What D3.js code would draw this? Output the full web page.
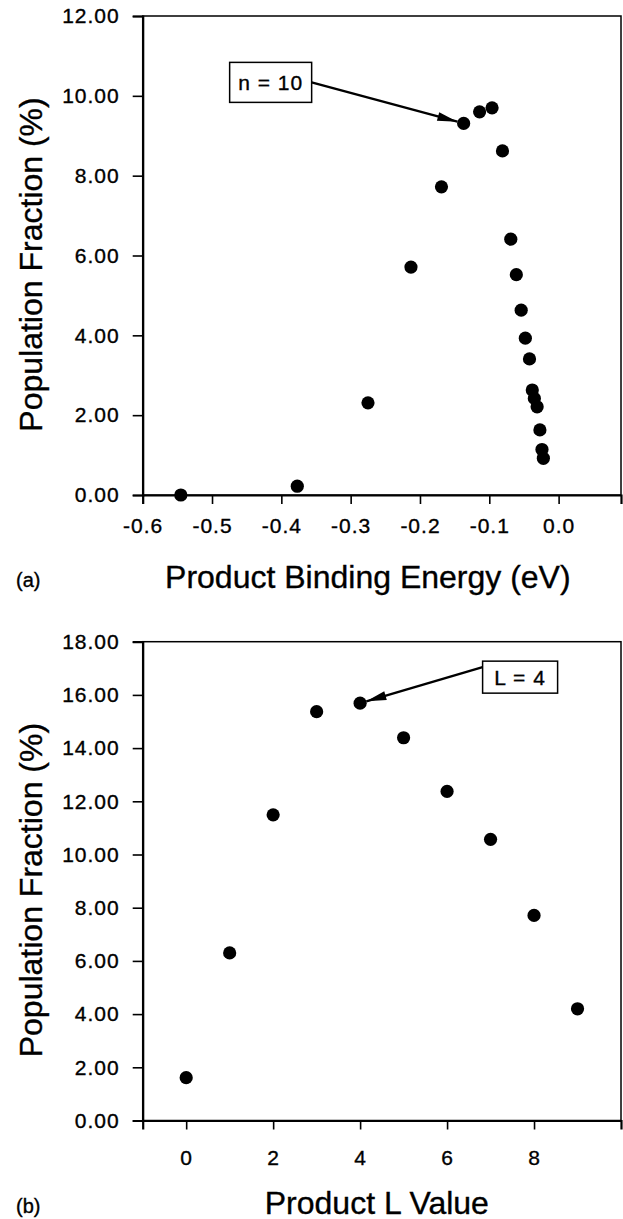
<!DOCTYPE html>
<html>
<head>
<meta charset="utf-8">
<script src="https://cdn.jsdelivr.net/npm/d3@7/dist/d3.min.js"></script>
<style>
  body { margin: 0; background: #fff; }
  svg { display: block; }
  text { font-family: "Liberation Sans", Arial, Helvetica, sans-serif; fill: #000; stroke: #000; stroke-width: 0.35px; }
</style>
</head>
<body>
<svg id="chart"></svg>
<script>
const width = 623
const height = 1219

// panel (a): product binding energy vs population fraction
const bindingEnergy = [-0.545, -0.377, -0.275, -0.213, -0.169, -0.137, -0.114, -0.096, -0.081, -0.069,
  -0.061, -0.054, -0.048, -0.042, -0.038, -0.035, -0.031, -0.027, -0.024, -0.022]
const energyFraction = [0.00, 0.22, 2.31, 5.71, 7.72, 9.31, 9.60, 9.70, 8.62, 6.41,
  5.52, 4.63, 3.93, 3.41, 2.63, 2.42, 2.21, 1.63, 1.14, 0.92]
const energyTicks = [-0.6, -0.5, -0.4, -0.3, -0.2, -0.1, 0.0]
const fractionTicksA = [0, 2, 4, 6, 8, 10, 12]

// panel (b): product L value vs population fraction
const lValue = [0, 1, 2, 3, 4, 5, 6, 7, 8, 9]
const lFraction = [1.61, 6.30, 11.49, 15.37, 15.69, 14.39, 12.37, 10.57, 7.71, 4.20]
const lTicks = [0, 2, 4, 6, 8]
const fractionTicksB = [0, 2, 4, 6, 8, 10, 12, 14, 16, 18]

const svg = d3.select('#chart').attr('width', width).attr('height', height)

// plain hyphen for negatives, like the original figure
const fmt = (spec) => (d) => d3.format(spec)(d).replace('\u2212', '-')

const panels = [
  {
    tag: '(a)', xTitle: 'Product Binding Energy (eV)', titleShift: -14,
    xs: bindingEnergy, ys: energyFraction,
    xDomain: [-0.6, 0.09], yDomain: [0, 12],
    xTicks: energyTicks, yTicks: fractionTicksA, xFormat: fmt('.1f'), xPad: 14,
    left: 142.7, right: 621, top: 16, bottom: 495,
    note: { label: 'n = 10', index: 5, dx: -193, dy: -41, w: 82, h: 40, side: 'right', ay: 0 }
  },
  {
    tag: '(b)', xTitle: 'Product L Value', titleShift: -5,
    xs: lValue, ys: lFraction,
    xDomain: [-1, 10], yDomain: [0, 18],
    xTicks: lTicks, yTicks: fractionTicksB, xFormat: fmt('d'), xPad: 21,
    left: 142.7, right: 621, top: 641.7, bottom: 1120.5,
    note: { label: 'L = 4', index: 4, dx: 160, dy: -26, w: 75, h: 32, side: 'left', ay: -10 }
  }
]

function drawPanel(p) {
  const x = d3.scaleLinear().domain(p.xDomain).range([p.left, p.right])
  const y = d3.scaleLinear().domain(p.yDomain).range([p.bottom, p.top])
  const g = svg.append('g')

  // frame
  g.append('rect')
    .attr('x', p.left).attr('y', p.top)
    .attr('width', p.right - p.left).attr('height', p.bottom - p.top)
    .attr('fill', 'none').attr('stroke', '#000').attr('stroke-width', 1.5)

  // axes
  const xAxis = g.append('g').attr('transform', `translate(0,${p.bottom})`)
    .call(d3.axisBottom(x).tickValues(p.xTicks).tickFormat(p.xFormat).tickSize(9).tickPadding(p.xPad))
  const yAxis = g.append('g').attr('transform', `translate(${p.left},0)`)
    .call(d3.axisLeft(y).tickValues(p.yTicks).tickFormat(d3.format('.2f')).tickSize(10).tickPadding(13))

  for (const ax of [xAxis, yAxis]) {
    ax.attr('font-family', '"Liberation Sans", Arial, sans-serif')
      .attr('font-size', 21)
      .attr('letter-spacing', '1px')
    ax.select('.domain').attr('stroke-width', 2.2)
    ax.selectAll('.tick line').attr('stroke-width', 1.6)
    ax.selectAll('.tick text').attr('fill', '#000')
  }

  // titles
  g.append('text')
    .attr('x', (p.left + p.right) / 2 + p.titleShift).attr('y', p.bottom + 93)
    .attr('text-anchor', 'middle').attr('font-size', 32)
    .text(p.xTitle)
  g.append('text')
    .attr('transform', `translate(42,${(p.top + p.bottom) / 2 + 9}) rotate(-90)`)
    .attr('text-anchor', 'middle').attr('font-size', 32)
    .text('Population Fraction (%)')
  g.append('text')
    .attr('x', 16).attr('y', p.bottom + 92)
    .attr('font-size', 20)
    .text(p.tag)

  // points
  g.selectAll('circle').data(p.xs).enter().append('circle')
    .attr('cx', (d) => x(d))
    .attr('cy', (d, i) => y(p.ys[i]))
    .attr('r', 6.6)
    .attr('fill', '#000')

  // callout
  const n = p.note
  const px = x(p.xs[n.index])
  const py = y(p.ys[n.index])
  const bx = px + n.dx
  const by = py + n.dy
  const sx = n.side === 'right' ? bx + n.w / 2 : bx - n.w / 2
  const sy = by + n.ay
  const ang = Math.atan2(py - sy, px - sx)
  const tipX = px - Math.cos(ang) * 6.5
  const tipY = py - Math.sin(ang) * 6.5
  g.append('line')
    .attr('x1', sx).attr('y1', sy).attr('x2', tipX).attr('y2', tipY)
    .attr('stroke', '#000').attr('stroke-width', 2.4)
  const len = 20, half = 4.5
  const baseX = tipX - Math.cos(ang) * len
  const baseY = tipY - Math.sin(ang) * len
  g.append('path')
    .attr('d', `M${tipX},${tipY} L${baseX - Math.sin(ang) * half},${baseY + Math.cos(ang) * half} L${baseX + Math.sin(ang) * half},${baseY - Math.cos(ang) * half} Z`)
    .attr('fill', '#000')
  g.append('rect')
    .attr('x', bx - n.w / 2).attr('y', by - n.h / 2)
    .attr('width', n.w).attr('height', n.h)
    .attr('fill', '#fff').attr('stroke', '#000').attr('stroke-width', 1.5)
  g.append('text')
    .attr('x', bx).attr('y', by)
    .attr('dy', '0.36em')
    .attr('text-anchor', 'middle')
    .attr('font-size', 21).attr('letter-spacing', '1px')
    .text(n.label)
}

panels.forEach(drawPanel)
</script>
</body>
</html>
